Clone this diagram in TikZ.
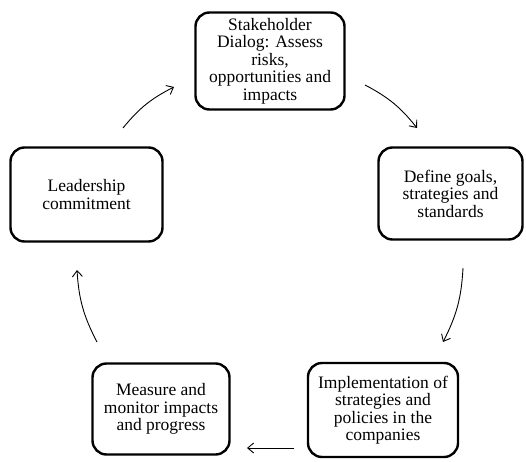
\documentclass[tikz,border=0pt]{standalone}
\usepackage{fontspec}
\setmainfont{Liberation Serif}
\usepackage{tikz}
\usetikzlibrary{arrows.meta}

\tikzset{
  stage/.style={draw, line width=2.4pt, rounded corners=14pt, align=center,
    font=\fontsize{17.5}{17.5}\selectfont, inner sep=0pt},
  flow/.style={->, line width=0.9pt}
}

\begin{document}
\begin{tikzpicture}[x=1pt, y=1pt, >={Straight Barb[length=6pt, width=10pt]}]
  \useasboundingbox (0,0) rectangle (526,461);

  \node[stage, minimum width=149pt, minimum height=97pt] (dialog) at (270,400)
    {Stakeholder\\Dialog: Assess\\risks,\\opportunities and\\impacts};
  \node[stage, minimum width=144pt, minimum height=92pt] (goals) at (450.5,267.5)
    {Define goals,\\strategies and\\standards};
  \node[stage, minimum width=150pt, minimum height=94pt] (impl) at (383,51)
    {Implementation of\\strategies and\\policies in the\\companies};
  \node[stage, minimum width=137pt, minimum height=91pt] (measure) at (161,52)
    {Measure and\\monitor impacts\\and progress};
  \node[stage, minimum width=152pt, minimum height=94pt] (lead) at (86.5,266.5)
    {Leadership\\commitment};

  % arrow ends
  \coordinate (a1s) at (365,376);
  \coordinate (a1e) at (417,333);
  \coordinate (a2s) at (463,193);
  \coordinate (a2e) at (443,119);
  \coordinate (a3s) at (294,13);
  \coordinate (a3e) at (247,13);
  \coordinate (a4s) at (97,119);
  \coordinate (a4e) at (77,191);
  \coordinate (a5s) at (123,333);
  \coordinate (a5e) at (174,374);

  \draw[flow] (a1s) to[bend left=12] (a1e);
  \draw[flow] (a2s) to[bend left=12] (a2e);
  \draw[flow] (a3s) -- (a3e);
  \draw[flow] (a4s) to[bend left=12] (a4e);
  \draw[flow] (a5s) to[bend left=12] (a5e);
\end{tikzpicture}
\end{document}
